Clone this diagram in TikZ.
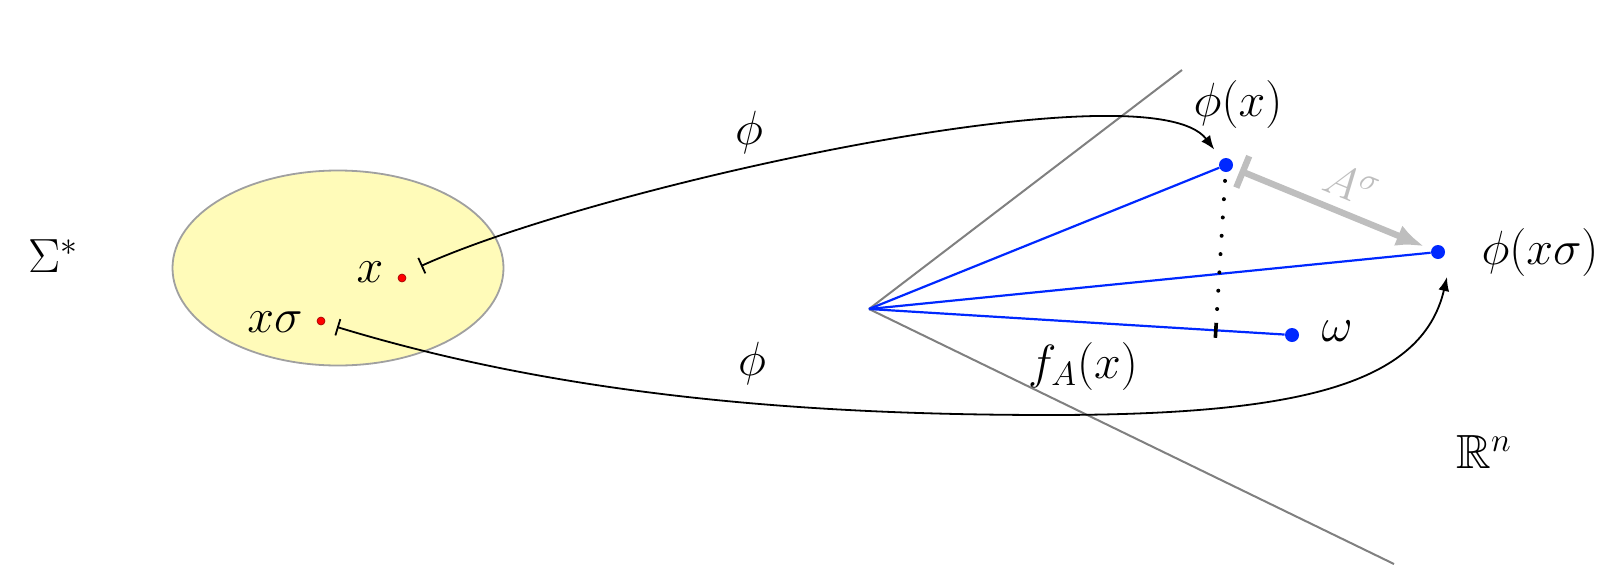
\RequirePackage{fix-cm}
\documentclass[tikz,border=0pt]{standalone}
\usepackage{amssymb}
\usetikzlibrary{arrows.meta,calc,shapes.geometric}
\definecolor{ellfill}{RGB}{255,251,185}
\definecolor{ellline}{RGB}{160,160,160}
\definecolor{conegray}{RGB}{128,128,128}
\definecolor{arrgray}{RGB}{190,190,190}
\definecolor{ptblue}{RGB}{0,40,255}
\begin{document}
\begin{tikzpicture}[x=0.5pt,y=-0.5pt,
  font=\fontsize{24}{29}\selectfont,
  lbl/.style={inner sep=0pt},
  setnode/.style={ellipse, fill=ellfill, draw=ellline, line width=0.9pt,
    minimum width=165.5pt, minimum height=97.5pt, inner sep=0pt},
  reddot/.style={circle, fill=red, draw=red!60!black, line width=0.3pt,
    minimum size=4pt, inner sep=0pt},
  bluedot/.style={circle, fill=ptblue, minimum size=7pt, inner sep=0pt},
  coneline/.style={conegray, line width=1pt},
  blueline/.style={ptblue, line width=1.1pt},
  dotline/.style={line width=2pt, line cap=round, dash pattern=on 0pt off 9.17pt,
    shorten <=4.25pt},
  ticks/.style={line width=1.8pt},
  garrow/.style={arrgray, line width=3.2pt,
    {Bar[width=17pt]}-{Latex[length=14pt,width=11pt]},
    shorten <=3.75pt, shorten >=3.75pt},
  mapsto/.style={line width=0.9pt,
    {Bar[width=8.5pt]}-{Latex[length=7pt,width=5.5pt]}},
]
\useasboundingbox (0,0) rectangle (1619,579);

% the set Sigma^*
\node[setnode] (S) at (338,268) {};

% cone
\coordinate (V) at (869,309);
\coordinate (ctop) at (1182,70);
\coordinate (cbot) at (1394,564);
\draw[coneline] (V) -- (ctop);
\draw[coneline] (V) -- (cbot);

% points in R^n
\node[bluedot] (px) at (1226,165) {};
\node[bluedot] (pxs) at (1438,252) {};
\node[bluedot] (om) at (1292,335) {};

\draw[blueline] (V) -- (px);
\draw[blueline] (V) -- (pxs);
\draw[blueline] (V) -- (om);

% projection of phi(x) onto omega
\coordinate (proj) at ($(V)!(px)!(om)$);
\draw[dotline] (px) -- (proj);
\draw[ticks] ($(proj)!3.75pt!90:(om)$) -- ($(proj)!3.75pt!-90:(om)$);

% A^sigma arrow
\draw[garrow] (px) -- node[sloped, above=5pt, pos=0.54, text=arrgray,
  font=\fontsize{23}{28}\selectfont, inner sep=0pt] (asig) {$A^{\sigma}$} (pxs);

% words in Sigma^*
\node[reddot] (xd) at (402,278) {};
\node[reddot] (xsd) at (321,321) {};
\node[lbl] (xl) at (370,272) {$x$};
\node[lbl] (xsl) at (275,322) {$x\sigma$};

% maps phi
\coordinate (xs) at (421,266);
\coordinate (xss) at (337,327);
\coordinate (xsbot) at (1050,415);
\coordinate (pxsin) at (1447,277);
\draw[mapsto, shorten >=6pt] (xs) .. controls (600,185) and (1150,65) .. (px);
\draw[mapsto] (xss) .. controls (560,395) and (800,415) .. (xsbot)
  .. controls (1300,415) and (1422,384) .. (pxsin);

% labels
\node[lbl] (sig) at (53,256) {$\Sigma^*$};
\node[lbl] (phiu) at (749,132) {$\phi$};
\node[lbl] (phid) at (752,363) {$\phi$};
\node[lbl] (pxl) at (1238,104) {$\phi(x)$};
\node[lbl] (pxsl) at (1540,252) {$\phi(x\sigma)$};
\node[lbl] (oml) at (1337,331) {$\omega$};
\node[lbl] (fal) at (1083,366) {$f_A(x)$};
\node[lbl] (rn) at (1484,452) {$\mathbb{R}^n$};
\end{tikzpicture}
\end{document}
